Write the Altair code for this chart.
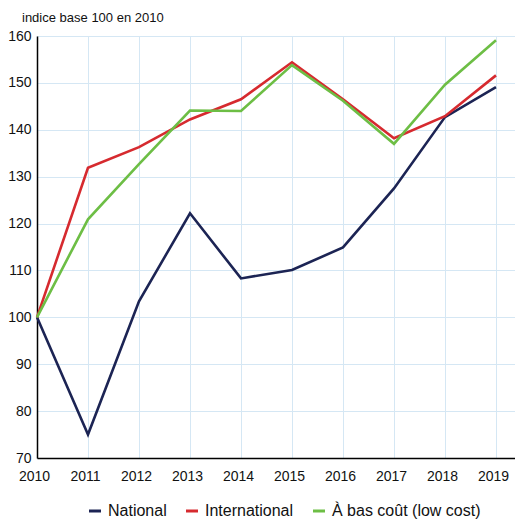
import altair as alt
import pandas as pd

years = [2010, 2011, 2012, 2013, 2014, 2015, 2016, 2017, 2018, 2019]
national = [100, 75, 103.4, 122.2, 108.3, 110.1, 114.9, 127.5, 142.7, 149.1]
international = [100, 131.9, 136.3, 142.2, 146.5, 154.4, 146.5, 138.2, 142.9, 151.6]
low_cost = [100, 120.9, 132.7, 144.1, 144.0, 153.8, 146.2, 137.0, 149.6, 159.1]

series_names = ["National", "International", "À bas coût (low cost)"]
colors = ["#1c2454", "#d62a2f", "#6dbe45"]
y_ticks = [70, 80, 90, 100, 110, 120, 130, 140, 150, 160]

rows = []
for name, vals in zip(series_names, [national, international, low_cost]):
    for yr, v in zip(years, vals):
        rows.append({"annee": yr, "indice": v, "serie": name})
df = pd.DataFrame(rows)

chart = alt.Chart(df).mark_line(strokeWidth=2.6).encode(
    x=alt.X("annee:Q",
            scale=alt.Scale(domain=[2010, 2019.373], nice=False, zero=False),
            axis=alt.Axis(values=years, format="d", title=None, labelPadding=11,
                          labelOffset=-3, labelFlush=False)),
    y=alt.Y("indice:Q",
            scale=alt.Scale(domain=[70, 160], nice=False, zero=False),
            axis=alt.Axis(values=y_ticks, title=None, labelPadding=6)),
    color=alt.Color("serie:N",
                    scale=alt.Scale(domain=series_names, range=colors),
                    legend=alt.Legend(title=None, orient="none", legendX=50, legendY=467,
                                      direction="horizontal", symbolType="stroke",
                                      symbolSize=144, symbolStrokeWidth=3,
                                      labelFontSize=16, labelOffset=5,
                                      columnPadding=13, labelFont="Liberation Sans",
                                      labelColor="#111")),
).properties(
    width=478,
    height=422,
    autosize="none",
    padding={"left": 29, "top": 28, "right": 0, "bottom": 62},
    title=alt.TitleParams("indice base 100 en 2010", anchor="start", frame="group",
                          dx=-15, offset=4, fontSize=13, fontWeight="normal",
                          font="Liberation Sans", color="#111"),
).configure_axis(
    domainColor="#000", domainWidth=1.5, gridColor="#d5e7f4", gridWidth=1,
    ticks=False, labelFont="Liberation Sans", labelFontSize=14, labelColor="#111",
).configure_view(strokeWidth=0)

chart.save("out.html", embed_options={"renderer": "svg", "actions": False})
